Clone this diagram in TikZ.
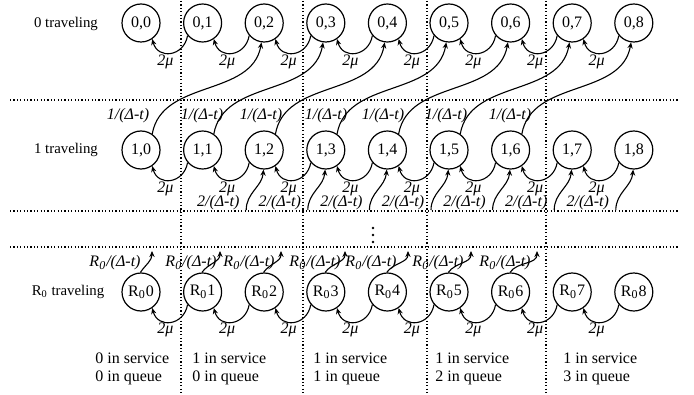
\documentclass[tikz,border=0pt]{standalone}
\usepackage{fontspec}
\setmainfont{Liberation Serif}
\usetikzlibrary{arrows.meta}

\begin{document}
\begin{tikzpicture}[x=0.5pt,y=0.5pt,
  state/.style={draw, circle, line width=0.6pt, minimum size=19pt, inner sep=0pt,
                font=\fontsize{8}{9}\selectfont},
  arr/.style={line width=0.55pt, -{Stealth[length=3pt,width=2.6pt]}},
  sep/.style={line width=0.6pt, dash pattern=on 0.6pt off 1.1pt},
  lbl/.style={font=\fontsize{8}{9}\selectfont\itshape, inner sep=0pt},
  rowname/.style={font=\fontsize{7.4}{9}\selectfont, inner sep=0pt},
  colname/.style={font=\fontsize{8}{9}\selectfont, align=left, anchor=west, inner sep=0pt}]

\useasboundingbox (0,0) rectangle (694,-395);

% dotted separators between rows and between queue lengths
\foreach \y in {100,211,247} \draw[sep] (10,-\y) -- (678,-\y);
\foreach \x in {181,303,427,546} \draw[sep] (\x,-1) -- (\x,-393);

% vertical ellipsis for the omitted rows
\foreach \y in {228,235,242} \fill (373,-\y) circle (1.3);

% row names
\node[rowname] (n0) at (66,-24) {0 traveling};
\node[rowname] (n1) at (66,-150) {1 traveling};
\node[rowname] (nR) at (68,-292) {R\textsubscript{0} traveling};

% states
\foreach \j in {0,...,8} {
  \node[state] (a\j) at (141+61.6*\j,-23)  {0,\j};
  \node[state] (b\j) at (141+61.6*\j,-150) {1,\j};
  \node[state] (c\j) at (141+61.6*\j,-292) {R\textsubscript{0}\j};
}

% service completions (rate 2 mu) along each row
\foreach \j [count=\k] in {0,...,7} {
  \foreach \r/\yy in {a/62,b/189,c/330} {
    \draw[arr] (\r\k.-140) to[out=-100,in=-75,looseness=1.55] (\r\j.-55);
    \node[lbl] (m\r\j) at (165.5+61.6*\j,-\yy) {2μ};
  }
}

% one traveller arrives: row 1 -> row 0
\foreach \j/\lx [count=\k from 2] in {0/128,1/202,2/261,3/326,4/383,5/446,6/510} {
  \draw[arr] (b\j.55) to[out=80,in=-100] (a\k.-98);
  \node[lbl] (u\j) at (\lx,-116) {1/(Δ-t)};
}

% arrivals from the row with two travellers
\foreach \j in {2,...,8} {
  \coordinate (s\j) at (141+61.6*\j-18,-210);
  \draw[arr] (s\j) to[out=90,in=-95] (b\j.-92);
  \node[lbl] (v\j) at (141+61.6*\j-46,-203) {2/(Δ-t)};
}

% departures from the row with R0 travellers
\foreach \j/\tx/\lx in {0/152/115,1/220/191,2/281/249,3/345/315,4/408/371,5/471/438,6/537/505} {
  \coordinate (t\j) at (\tx,-251);
  \draw[arr] (c\j.92) to[out=55,in=-90] (t\j);
  \node[lbl] (w\j) at (\lx,-263) {R\textsubscript{0}/(Δ-t)};
}

% queue contents per column
\node[colname] (q0) at (95,-369)  {0 in service\\0 in queue};
\node[colname] (q1) at (192,-369) {1 in service\\0 in queue};
\node[colname] (q2) at (313,-369) {1 in service\\1 in queue};
\node[colname] (q3) at (435,-369) {1 in service\\2 in queue};
\node[colname] (q4) at (563,-369) {1 in service\\3 in queue};

\end{tikzpicture}
\end{document}
